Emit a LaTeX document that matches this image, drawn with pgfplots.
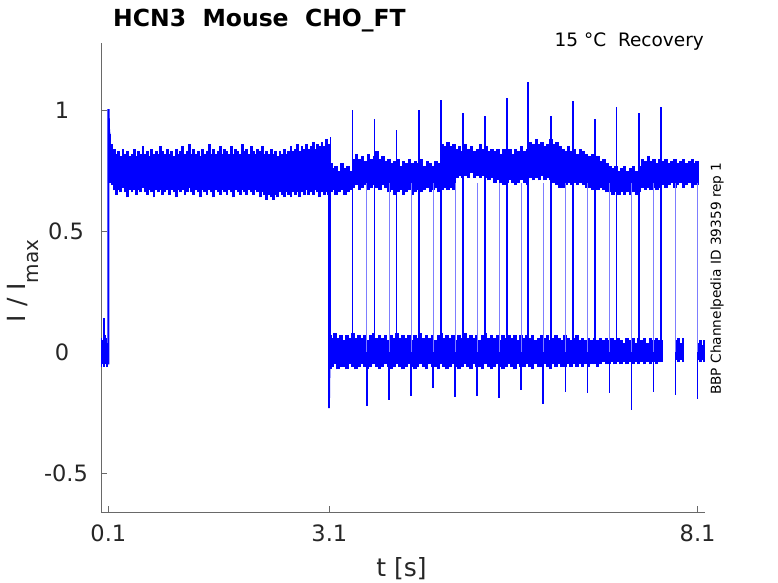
\documentclass[border=0pt]{standalone}
\usepackage{fontspec}
\setmainfont{DejaVu Sans}
\usepackage{pgfplots}
\pgfplotsset{compat=1.18}
\usepackage{pgfplotstable}
\definecolor{axgray}{RGB}{105,105,105}
\definecolor{lblgray}{RGB}{38,38,38}
\definecolor{mblue}{RGB}{0,0,255}
\definecolor{lblue}{RGB}{125,125,255}

% pre-pulse baseline
\pgfplotstableread{
x t b
0.00 0.04 -0.05
0.01 0.06 -0.06
0.02 0.05 -0.05
0.03 0.10 -0.06
0.04 0.14 -0.04
0.05 0.12 -0.06
0.06 0.07 -0.05
0.07 0.05 -0.06
0.08 0.06 -0.05
0.09 0.04 -0.06
0.10 0.05 -0.05
}\tabA

% activated plateau 0.1 - 3.1 s
\pgfplotstableread{
x t b
0.12 0.90 0.70
0.15 0.86 0.69
0.18 0.84 0.67
0.21 0.82 0.65
0.24 0.83 0.67
0.27 0.81 0.66
0.30 0.84 0.68
0.33 0.82 0.66
0.36 0.83 0.64
0.39 0.81 0.67
0.42 0.82 0.66
0.45 0.84 0.67
0.48 0.81 0.65
0.51 0.83 0.67
0.54 0.82 0.66
0.57 0.85 0.68
0.60 0.82 0.66
0.63 0.83 0.65
0.66 0.81 0.67
0.69 0.84 0.66
0.72 0.82 0.64
0.75 0.83 0.67
0.78 0.82 0.66
0.81 0.85 0.67
0.84 0.83 0.65
0.87 0.82 0.66
0.90 0.84 0.67
0.93 0.82 0.65
0.96 0.83 0.67
0.99 0.81 0.66
1.02 0.84 0.64
1.05 0.82 0.67
1.08 0.83 0.66
1.11 0.85 0.67
1.14 0.82 0.65
1.17 0.83 0.66
1.20 0.86 0.68
1.23 0.82 0.66
1.26 0.84 0.65
1.29 0.82 0.67
1.32 0.83 0.66
1.35 0.81 0.64
1.38 0.84 0.67
1.41 0.82 0.66
1.44 0.83 0.65
1.47 0.86 0.67
1.50 0.82 0.66
1.53 0.84 0.64
1.56 0.82 0.67
1.59 0.83 0.66
1.62 0.85 0.65
1.65 0.82 0.67
1.68 0.84 0.66
1.71 0.83 0.65
1.74 0.82 0.67
1.77 0.85 0.66
1.80 0.82 0.64
1.83 0.84 0.67
1.86 0.83 0.66
1.89 0.82 0.65
1.92 0.86 0.67
1.95 0.83 0.66
1.98 0.84 0.65
2.01 0.82 0.67
2.04 0.85 0.66
2.07 0.83 0.65
2.10 0.82 0.67
2.13 0.84 0.66
2.16 0.83 0.64
2.19 0.85 0.66
2.22 0.82 0.65
2.25 0.83 0.63
2.28 0.82 0.65
2.31 0.84 0.64
2.34 0.82 0.63
2.37 0.83 0.65
2.40 0.81 0.64
2.43 0.83 0.66
2.46 0.82 0.65
2.49 0.84 0.64
2.52 0.82 0.66
2.55 0.83 0.65
2.58 0.85 0.64
2.61 0.83 0.66
2.64 0.84 0.65
2.67 0.86 0.66
2.70 0.83 0.64
2.73 0.85 0.66
2.76 0.84 0.65
2.79 0.86 0.67
2.82 0.84 0.65
2.85 0.85 0.66
2.88 0.87 0.65
2.91 0.84 0.67
2.94 0.86 0.66
2.97 0.85 0.64
3.00 0.87 0.66
3.03 0.85 0.65
3.06 0.88 0.66
3.09 0.86 0.65
}\tabB

% deactivated traces 3.1 - 7.6 s
\pgfplotstableread{
x t b
3.11 0.07 -0.07
3.14 0.06 -0.06
3.18 0.08 -0.05
3.22 0.06 -0.07
3.26 0.07 -0.06
3.30 0.05 -0.06
3.34 0.07 -0.07
3.38 0.06 -0.05
3.42 0.08 -0.06
3.46 0.06 -0.07
3.50 0.07 -0.06
3.54 0.06 -0.05
3.58 0.07 -0.06
3.62 0.05 -0.07
3.66 0.07 -0.06
3.70 0.08 -0.05
3.74 0.06 -0.06
3.78 0.07 -0.07
3.82 0.06 -0.06
3.86 0.07 -0.05
3.90 0.05 -0.06
3.94 0.07 -0.07
3.98 0.06 -0.06
4.02 0.08 -0.05
4.06 0.06 -0.06
4.10 0.07 -0.07
4.14 0.06 -0.06
4.18 0.07 -0.05
4.22 0.05 -0.06
4.26 0.07 -0.07
4.30 0.06 -0.06
4.34 0.08 -0.05
4.38 0.06 -0.06
4.42 0.07 -0.07
4.46 0.06 -0.05
4.50 0.07 -0.06
4.54 0.05 -0.06
4.58 0.07 -0.07
4.62 0.08 -0.05
4.66 0.06 -0.06
4.70 0.07 -0.07
4.74 0.06 -0.06
4.78 0.07 -0.05
4.82 0.05 -0.06
4.86 0.07 -0.07
4.90 0.06 -0.06
4.94 0.08 -0.05
4.98 0.06 -0.06
5.02 0.07 -0.07
5.06 0.06 -0.05
5.10 0.07 -0.06
5.14 0.05 -0.06
5.18 0.07 -0.07
5.22 0.08 -0.05
5.26 0.06 -0.06
5.30 0.07 -0.07
5.34 0.06 -0.06
5.38 0.07 -0.05
5.42 0.05 -0.06
5.46 0.07 -0.07
5.50 0.06 -0.06
5.54 0.07 -0.05
5.58 0.06 -0.06
5.62 0.07 -0.07
5.66 0.05 -0.05
5.70 0.07 -0.06
5.74 0.06 -0.06
5.78 0.07 -0.05
5.82 0.06 -0.06
5.86 0.07 -0.07
5.90 0.05 -0.05
5.94 0.06 -0.06
5.98 0.07 -0.06
6.02 0.06 -0.05
6.06 0.07 -0.06
6.10 0.05 -0.07
6.14 0.06 -0.05
6.18 0.07 -0.06
6.22 0.06 -0.05
6.26 0.05 -0.06
6.30 0.07 -0.06
6.34 0.06 -0.05
6.38 0.05 -0.06
6.42 0.06 -0.05
6.46 0.07 -0.06
6.50 0.05 -0.05
6.54 0.06 -0.06
6.58 0.05 -0.05
6.62 0.06 -0.06
6.66 0.05 -0.05
6.70 0.06 -0.05
6.74 0.05 -0.06
6.78 0.06 -0.05
6.82 0.05 -0.04
6.86 0.06 -0.05
6.90 0.05 -0.05
6.94 0.06 -0.04
6.98 0.05 -0.05
7.02 0.06 -0.04
7.06 0.05 -0.05
7.10 0.04 -0.04
7.14 0.06 -0.05
7.18 0.05 -0.04
7.22 0.06 -0.05
7.26 0.04 -0.04
7.30 0.06 -0.05
7.34 0.05 -0.04
7.38 0.06 -0.05
7.42 0.04 -0.04
7.46 0.06 -0.05
7.50 0.05 -0.04
7.54 0.06 -0.05
7.58 0.05 -0.04
7.60 0.05 -0.04
}\tabC

\pgfplotstableread{
x t b
7.81 0.05 -0.03
7.84 0.06 -0.04
7.87 0.04 -0.03
7.90 0.06 -0.04
}\tabD

\pgfplotstableread{
x t b
8.11 0.04 -0.03
8.14 0.05 -0.04
8.17 0.03 -0.03
8.19 0.05 -0.04
}\tabE

% recovered traces 3.1 - 8.1 s
\pgfplotstableread{
x t b
3.12 0.78 0.66
3.15 0.76 0.67
3.19 0.77 0.65
3.23 0.75 0.66
3.27 0.78 0.67
3.31 0.76 0.65
3.35 0.77 0.66
3.39 0.75 0.67
3.43 0.80 0.68
3.47 0.82 0.69
3.51 0.80 0.67
3.55 0.81 0.68
3.59 0.79 0.69
3.63 0.82 0.67
3.67 0.80 0.68
3.71 0.81 0.69
3.75 0.83 0.68
3.79 0.80 0.67
3.83 0.81 0.69
3.87 0.79 0.68
3.91 0.80 0.66
3.95 0.78 0.67
3.99 0.79 0.65
4.03 0.80 0.66
4.07 0.77 0.67
4.11 0.79 0.65
4.15 0.78 0.66
4.19 0.80 0.67
4.23 0.78 0.65
4.27 0.79 0.66
4.31 0.78 0.67
4.35 0.80 0.66
4.39 0.77 0.67
4.43 0.79 0.68
4.47 0.78 0.66
4.51 0.77 0.67
4.55 0.79 0.68
4.59 0.78 0.66
4.63 0.86 0.67
4.67 0.85 0.68
4.71 0.87 0.67
4.75 0.85 0.68
4.79 0.86 0.67
4.83 0.84 0.72
4.87 0.85 0.73
4.91 0.83 0.72
4.95 0.86 0.73
4.99 0.84 0.72
5.03 0.85 0.74
5.07 0.83 0.72
5.11 0.84 0.73
5.15 0.86 0.72
5.19 0.84 0.73
5.23 0.85 0.72
5.27 0.83 0.71
5.31 0.84 0.72
5.35 0.83 0.70
5.39 0.84 0.71
5.43 0.82 0.70
5.47 0.84 0.69
5.51 0.83 0.70
5.55 0.84 0.71
5.59 0.82 0.70
5.63 0.84 0.69
5.67 0.83 0.70
5.71 0.85 0.71
5.75 0.83 0.70
5.79 0.84 0.69
5.83 0.87 0.72
5.87 0.86 0.71
5.91 0.88 0.72
5.95 0.86 0.71
5.99 0.87 0.73
6.03 0.85 0.71
6.07 0.86 0.72
6.11 0.88 0.71
6.15 0.86 0.70
6.19 0.87 0.69
6.23 0.85 0.68
6.27 0.84 0.68
6.31 0.83 0.69
6.35 0.85 0.70
6.39 0.83 0.69
6.43 0.84 0.70
6.47 0.82 0.69
6.51 0.84 0.70
6.55 0.83 0.69
6.59 0.82 0.68
6.63 0.81 0.68
6.67 0.82 0.67
6.71 0.80 0.68
6.75 0.81 0.67
6.79 0.79 0.68
6.83 0.80 0.67
6.87 0.78 0.66
6.91 0.77 0.66
6.95 0.76 0.65
6.99 0.77 0.66
7.03 0.75 0.65
7.07 0.76 0.66
7.11 0.77 0.65
7.15 0.75 0.66
7.19 0.76 0.65
7.23 0.77 0.66
7.27 0.75 0.65
7.31 0.77 0.66
7.35 0.80 0.68
7.39 0.79 0.67
7.43 0.81 0.68
7.47 0.79 0.67
7.51 0.80 0.68
7.55 0.78 0.67
7.59 0.80 0.68
7.63 0.79 0.69
7.67 0.80 0.68
7.71 0.78 0.69
7.75 0.79 0.70
7.79 0.80 0.68
7.83 0.78 0.69
7.87 0.79 0.70
7.91 0.80 0.68
7.95 0.78 0.69
7.99 0.79 0.70
8.03 0.80 0.68
8.07 0.78 0.69
8.09 0.79 0.69
}\tabF

% re-activation steps (with overshoot)
\pgfplotstableread{
x y
3.116 -0.04
3.116 0.889
nan nan
3.415 -0.04
3.415 1.001
nan nan
3.714 -0.04
3.714 0.964
nan nan
4.013 -0.04
4.013 0.916
nan nan
4.312 -0.04
4.312 1.001
nan nan
4.611 -0.04
4.611 1.040
nan nan
4.910 -0.04
4.910 0.988
nan nan
5.209 -0.04
5.209 0.976
nan nan
5.508 -0.04
5.508 1.051
nan nan
5.802 -0.04
5.802 1.118
nan nan
6.105 -0.04
6.105 0.975
nan nan
6.404 -0.04
6.404 1.037
nan nan
6.703 -0.04
6.703 0.964
nan nan
6.998 -0.04
6.998 1.012
nan nan
7.301 -0.04
7.301 0.988
nan nan
7.600 -0.04
7.600 1.012
}\tabUp

% deactivation steps: upper to lower band
\pgfplotstableread{
x y
3.611 0.70
3.611 0.00
nan nan
3.910 0.70
3.910 0.00
nan nan
4.214 0.70
4.214 0.00
nan nan
4.508 0.70
4.508 0.00
nan nan
4.806 0.70
4.806 0.00
nan nan
5.105 0.70
5.105 0.00
nan nan
5.404 0.70
5.404 0.00
nan nan
5.703 0.70
5.703 0.00
nan nan
6.002 0.70
6.002 0.00
nan nan
6.305 0.70
6.305 0.00
nan nan
6.604 0.70
6.604 0.00
nan nan
6.903 0.70
6.903 0.00
nan nan
7.202 0.70
7.202 0.00
nan nan
7.501 0.70
7.501 0.00
nan nan
7.800 0.70
7.800 0.00
nan nan
8.099 0.70
8.099 0.00
}\tabDnA

% deactivation undershoots
\pgfplotstableread{
x y
3.611 -0.04
3.611 -0.223
nan nan
3.910 -0.04
3.910 -0.197
nan nan
4.214 -0.04
4.214 -0.181
nan nan
4.508 -0.04
4.508 -0.147
nan nan
4.806 -0.04
4.806 -0.185
nan nan
5.105 -0.04
5.105 -0.181
nan nan
5.404 -0.04
5.404 -0.189
nan nan
5.703 -0.04
5.703 -0.157
nan nan
6.002 -0.04
6.002 -0.213
nan nan
6.305 -0.04
6.305 -0.163
nan nan
6.604 -0.04
6.604 -0.167
nan nan
6.903 -0.04
6.903 -0.167
nan nan
7.202 -0.04
7.202 -0.239
nan nan
7.501 -0.04
7.501 -0.163
nan nan
7.800 -0.03
7.800 -0.177
nan nan
8.099 -0.03
8.099 -0.193
}\tabDnB

\begin{document}
\begin{tikzpicture}
\begin{axis}[
  at={(101bp,71bp)}, anchor=south west,
  scale only axis, width=604bp, height=469bp,
  xmin=0, xmax=8.2, ymin=-0.659, ymax=1.277,
  axis x line*=bottom, axis y line*=left,
  axis line style={-, draw=axgray, line width=0.7bp},
  xtick={0.1,3.1,8.1}, xticklabels={0.1,3.1,8.1},
  ytick={-0.5,0,0.5,1}, yticklabels={\hspace*{8bp}-0.5,0,\hspace*{8bp}0.5,1},
  tick align=inside, major tick length=6bp,
  tick style={draw=axgray, line width=0.7bp},
  xticklabel style={font=\fontsize{22.5bp}{22.5bp}\selectfont, text=lblgray, inner sep=0pt, anchor=north, yshift=-13bp},
  yticklabel style={font=\fontsize{22.5bp}{22.5bp}\selectfont, text=lblgray, inner sep=0pt, anchor=center, xshift=-39bp},
  unbounded coords=jump,
]
% noise bands: each sample drawn as a vertical stroke from its low to its high value
\addplot[draw=none, mark=none, error bars/.cd, y dir=plus, y explicit, error mark=none,
  error bar style={draw=mblue, line width=1.2bp}]
  table[x=x, y=b, y error plus expr=\thisrow{t}-\thisrow{b}]{\tabA};
\addplot[draw=none, mark=none, error bars/.cd, y dir=plus, y explicit, error mark=none,
  error bar style={draw=mblue, line width=2.8bp}]
  table[x=x, y=b, y error plus expr=\thisrow{t}-\thisrow{b}]{\tabB};
\addplot[draw=none, mark=none, error bars/.cd, y dir=plus, y explicit, error mark=none,
  error bar style={draw=mblue, line width=3.5bp}]
  table[x=x, y=b, y error plus expr=\thisrow{t}-\thisrow{b}]{\tabC};
\addplot[draw=none, mark=none, error bars/.cd, y dir=plus, y explicit, error mark=none,
  error bar style={draw=mblue, line width=2.6bp}]
  table[x=x, y=b, y error plus expr=\thisrow{t}-\thisrow{b}]{\tabD};
\addplot[draw=none, mark=none, error bars/.cd, y dir=plus, y explicit, error mark=none,
  error bar style={draw=mblue, line width=2.6bp}]
  table[x=x, y=b, y error plus expr=\thisrow{t}-\thisrow{b}]{\tabE};
\addplot[draw=none, mark=none, error bars/.cd, y dir=plus, y explicit, error mark=none,
  error bar style={draw=mblue, line width=3.5bp}]
  table[x=x, y=b, y error plus expr=\thisrow{t}-\thisrow{b}]{\tabF};
% steps
\addplot[draw=lblue, line width=1bp, mark=none] table[x=x,y=y]{\tabDnA};
\addplot[draw=mblue, line width=1.8bp, mark=none] table[x=x,y=y]{\tabDnB};
\addplot[draw=mblue, line width=1.8bp, mark=none] table[x=x,y=y]{\tabUp};
\addplot[draw=mblue, line width=1.8bp, mark=none] coordinates {(0.1,-0.05) (0.1,1.0) (0.104,1.0) (0.11,0.92) (0.12,0.88)};
\addplot[draw=mblue, line width=1.8bp, mark=none] coordinates {(3.095,0.86) (3.095,-0.230) (3.102,-0.06)};
\end{axis}
% texts
\node[anchor=base west, inner sep=0pt, font=\bfseries\fontsize{23.5bp}{23.5bp}\selectfont] at (113bp,556.3bp) {HCN3\ \ Mouse\ \ CHO\_FT};
\node[anchor=base east, inner sep=0pt, font=\fontsize{18.5bp}{18.5bp}\selectfont] at (704bp,536.3bp) {15 °C\ \ Recovery};
\node[rotate=90, anchor=base west, inner sep=0pt, font=\fontsize{13.7bp}{13.7bp}\selectfont] at (720.8bp,188bp) {BBP Channelpedia ID 39359 rep 1};
\node[rotate=90, anchor=base west, inner sep=0pt, text=lblgray] at (25bp,260.5bp) {{\fontsize{25bp}{25bp}\selectfont I / I}\raisebox{-13.3bp}{\fontsize{20bp}{20bp}\selectfont max}};
\node[anchor=base, inner sep=0pt, text=lblgray, font=\fontsize{25bp}{25bp}\selectfont] at (401.5bp,6.3bp) {t [s]};
\pgfresetboundingbox
\useasboundingbox (0,0) rectangle (778bp,583bp);
\end{tikzpicture}
\end{document}
